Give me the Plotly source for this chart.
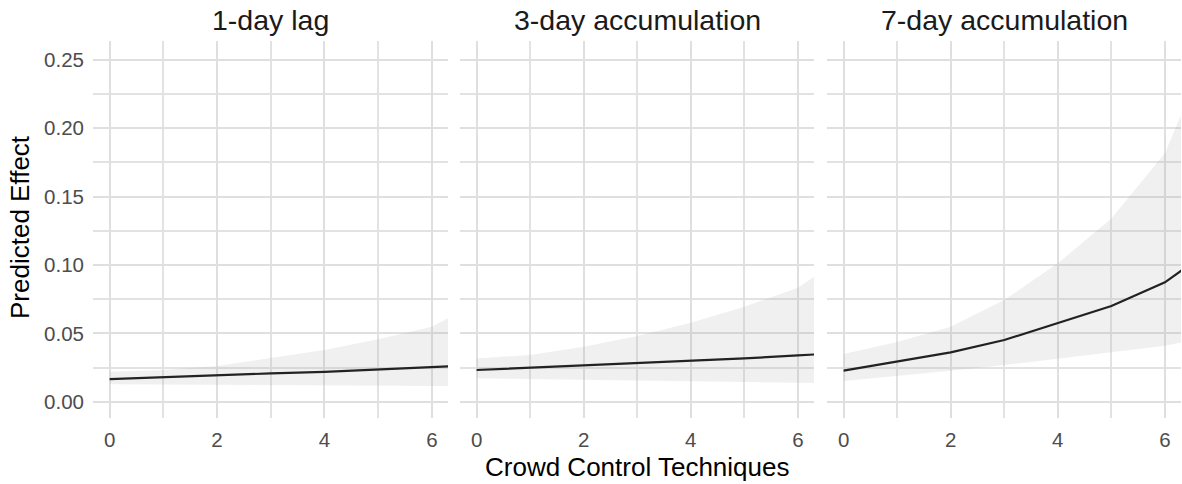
import plotly.graph_objects as go

# ---------------- data ----------------
x_vals = [0, 1, 2, 3, 4, 5, 6, 7]
panel_titles = ["1-day lag", "3-day accumulation", "7-day accumulation"]

fit_1day = [0.0166, 0.0181, 0.0193, 0.0207, 0.0219, 0.0234, 0.0254, 0.0271]
lo_1day = [0.0127, 0.0125, 0.0124, 0.0122, 0.0121, 0.0119, 0.0117, 0.0113]
hi_1day = [0.0219, 0.0232, 0.0261, 0.0317, 0.0378, 0.0456, 0.0548, 0.0755]

fit_3day = [0.0232, 0.0249, 0.0266, 0.0281, 0.0297, 0.0317, 0.0339, 0.0360]
lo_3day = [0.0171, 0.0166, 0.0160, 0.0155, 0.0150, 0.0145, 0.0139, 0.0133]
hi_3day = [0.0317, 0.0341, 0.0402, 0.0480, 0.0578, 0.0694, 0.0833, 0.1100]

fit_7day = [0.0227, 0.0292, 0.0361, 0.0451, 0.0578, 0.0700, 0.0873, 0.1150]
lo_7day = [0.0151, 0.0188, 0.0227, 0.0268, 0.0315, 0.0361, 0.0409, 0.0490]
hi_7day = [0.0349, 0.0436, 0.0548, 0.0743, 0.1012, 0.1340, 0.1816, 0.2750]

x_title = "Crowd Control Techniques"
y_title = "Predicted Effect"

x_range = [-0.31, 6.3]
y_range = [-0.0121, 0.2637]
y_ticks = [0.0, 0.05, 0.10, 0.15, 0.20, 0.25]
y_tick_text = ["0.00", "0.05", "0.10", "0.15", "0.20", "0.25"]

# ---------------- styling ----------------
W, H = 1182, 484
FONT = "Liberation Sans, Arial, Helvetica, sans-serif"
panel_px = [(93, 448), (460, 814), (827, 1181)]
y_dom = [1 - 418.3 / H, 1 - 41 / H]
GRID = "#dfdfdf"
GRID_MINOR = "#e2e2e2"
RIBBON = "rgba(170,170,170,0.18)"
LINE = "#222222"

series = [(fit_1day, lo_1day, hi_1day), (fit_3day, lo_3day, hi_3day), (fit_7day, lo_7day, hi_7day)]

fig = go.Figure()
for i, (fit, lo, hi) in enumerate(series):
    xa = "x" if i == 0 else f"x{i+1}"
    ya = "y" if i == 0 else f"y{i+1}"
    fig.add_trace(go.Scatter(x=x_vals, y=hi, xaxis=xa, yaxis=ya, mode="lines",
                             line=dict(width=0, color=RIBBON), showlegend=False, hoverinfo="skip"))
    fig.add_trace(go.Scatter(x=x_vals, y=lo, xaxis=xa, yaxis=ya, mode="lines",
                             line=dict(width=0, color=RIBBON), fill="tonexty", fillcolor=RIBBON,
                             showlegend=False, hoverinfo="skip"))
    fig.add_trace(go.Scatter(x=x_vals, y=fit, xaxis=xa, yaxis=ya, mode="lines",
                             line=dict(width=2.2, color=LINE), showlegend=False))

layout = dict(width=W, height=H, autosize=False, margin=dict(l=0, r=0, t=0, b=0),
              paper_bgcolor="white", plot_bgcolor="white", template="none",
              font=dict(family=FONT, color="#4d4d4d"))

annotations = []
for i, (x0, x1) in enumerate(panel_px):
    suffix = "" if i == 0 else str(i + 1)
    layout["xaxis" + suffix] = dict(
        domain=[x0 / W, x1 / W], anchor="y" + suffix, range=x_range,
        tick0=0, dtick=2, showgrid=True, gridcolor=GRID, gridwidth=2,
        minor=dict(dtick=1, tick0=0, showgrid=True, gridcolor=GRID_MINOR, gridwidth=1.5),
        zeroline=False, showline=False, ticks="", automargin=False,
        tickfont=dict(size=20.5, color="#4d4d4d", family=FONT), ticklabelstandoff=7)
    layout["yaxis" + suffix] = dict(
        domain=y_dom, anchor="x" + suffix, range=y_range,
        tickvals=y_ticks, ticktext=y_tick_text, showticklabels=(i == 0),
        showgrid=True, gridcolor=GRID, gridwidth=2,
        minor=dict(tickvals=[0.025, 0.075, 0.125, 0.175, 0.225], showgrid=True,
                   gridcolor=GRID_MINOR, gridwidth=1.5),
        zeroline=False, showline=False, ticks="", automargin=False,
        tickfont=dict(size=20.5, color="#4d4d4d", family=FONT), ticklabelstandoff=8)
    if i > 0:
        layout["yaxis" + suffix]["matches"] = "y"
    annotations.append(dict(text=panel_titles[i], x=(x0 + x1) / 2 / W, y=1 - 20 / H,
                            xref="paper", yref="paper", showarrow=False,
                            xanchor="center", yanchor="middle",
                            font=dict(size=28.5, color="#1a1a1a", family=FONT)))

annotations.append(dict(text=x_title, x=637 / W, y=1 - 466.5 / H, xref="paper", yref="paper",
                        showarrow=False, xanchor="center", yanchor="middle",
                        font=dict(size=26, color="#000000", family=FONT)))
annotations.append(dict(text=y_title, x=20 / W, y=1 - 227 / H, xref="paper", yref="paper",
                        showarrow=False, xanchor="center", yanchor="middle", textangle=-90,
                        font=dict(size=26, color="#000000", family=FONT)))
layout["annotations"] = annotations

fig.update_layout(**layout)
fig.write_html("out.html")
